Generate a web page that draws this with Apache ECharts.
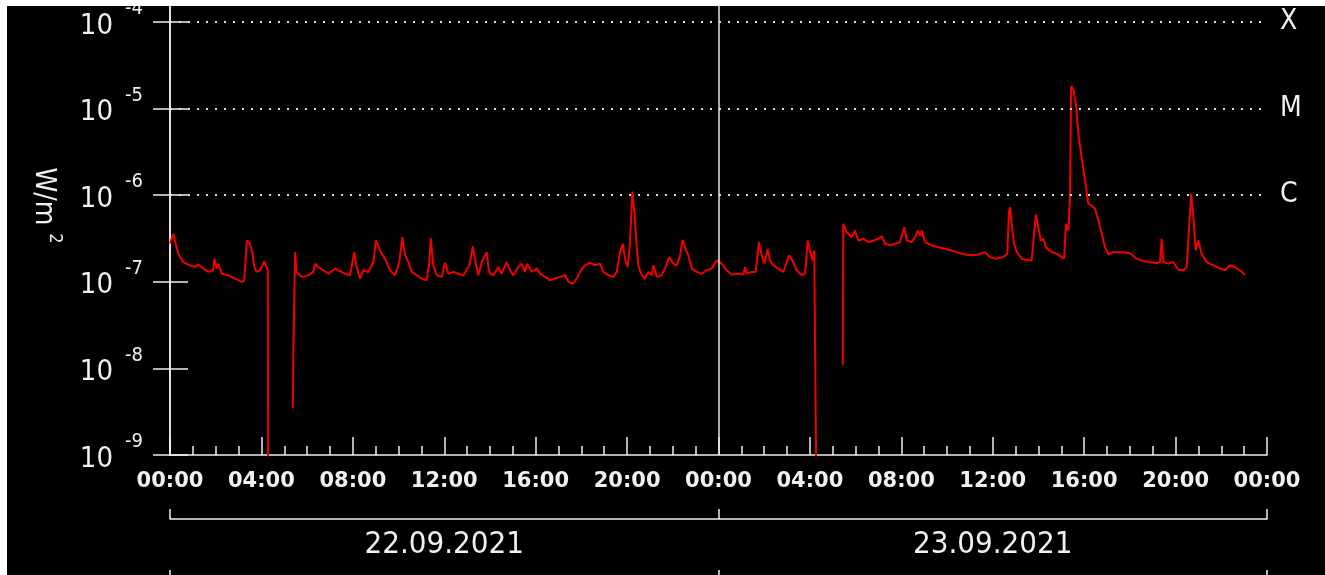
<!DOCTYPE html>
<html>
<head>
<meta charset="utf-8">
<title>X-ray flux</title>
<script src="https://cdn.jsdelivr.net/npm/echarts@6.0.0/dist/echarts.min.js"></script>
<style>
  html, body { margin: 0; padding: 0; background: #fff; }
  #main { position: absolute; left: 7px; top: 6px; width: 1318px; height: 569px; }
</style>
</head>
<body>
<div id="main"></div>
<script>
// time in hours from 22.09.2021 00:00, flux in W/m2 (null = gap in data)
var hours = [
  0.00, 0.14, 0.36, 0.58, 0.80, 1.09, 1.24, 1.46, 1.68, 1.89, 1.94, 2.04, 2.11, 2.26, 2.55, 2.84,
  3.14, 3.25, 3.36, 3.50, 3.60, 3.69, 3.79, 3.94, 4.13, 4.23, 4.28, 4.30, 4.31,
  5.37, 5.40, 5.47, 5.54, 5.76, 6.05, 6.27, 6.35, 6.49, 6.71, 6.93, 7.22, 7.36, 7.66, 7.88,
  8.06, 8.17, 8.31, 8.46, 8.68, 8.90, 9.01, 9.19, 9.41, 9.63, 9.85, 10.03, 10.17, 10.28, 10.43,
  10.58, 10.80, 11.01, 11.23, 11.35, 11.41, 11.52, 11.67, 11.89, 12.03, 12.18, 12.40, 12.62, 12.83,
  13.10, 13.25, 13.35, 13.49, 13.64, 13.75, 13.86, 13.93, 14.00, 14.15, 14.37, 14.51, 14.73, 14.88,
  15.02, 15.24, 15.39, 15.53, 15.63, 15.83, 16.05, 16.19, 16.41, 16.63, 16.85, 17.06, 17.28, 17.43,
  17.62, 17.80, 17.94, 18.16, 18.38, 18.60, 18.82, 18.96, 19.18, 19.40, 19.55, 19.69, 19.81, 19.91,
  20.03, 20.13, 20.23, 20.32, 20.39, 20.49, 20.64, 20.78, 20.93, 21.08, 21.15, 21.30, 21.51, 21.66,
  21.85, 22.02, 22.17, 22.32, 22.43, 22.58, 22.68, 22.83, 23.05, 23.27, 23.48, 23.70, 23.92, 23.99,
  24.14, 24.36, 24.58, 24.87, 25.09, 25.16, 25.23, 25.45, 25.63, 25.72, 25.77, 25.89, 26.01, 26.15,
  26.25, 26.40, 26.62, 26.84, 26.98, 27.09, 27.23, 27.42, 27.64, 27.79, 27.90, 28.00, 28.11, 28.19,
  28.27, 28.30, 28.31,
  29.44, 29.46, 29.61, 29.83, 29.97, 30.12, 30.34, 30.56, 30.77, 30.99, 31.14, 31.29, 31.50, 31.72,
  31.94, 32.13, 32.24, 32.45, 32.60, 32.72, 32.82, 32.89, 33.04, 33.33, 33.62, 33.91, 34.20, 34.49,
  34.79, 35.08, 35.37, 35.66, 35.88, 36.10, 36.17, 36.46, 36.64, 36.71, 36.76, 36.83, 36.93, 37.05,
  37.27, 37.49, 37.70, 37.82, 37.89, 37.99, 38.10, 38.21, 38.33, 38.58, 38.80, 39.02, 39.12, 39.21,
  39.31, 39.38, 39.43, 39.53, 39.64, 39.75, 39.89, 40.04, 40.18, 40.33, 40.48, 40.62, 40.77, 40.91,
  41.06, 41.28, 41.49, 41.71, 42.01, 42.30, 42.59, 42.88, 43.17, 43.32, 43.39, 43.46, 43.68, 43.90,
  44.12, 44.34, 44.49, 44.59, 44.68, 44.78, 44.88, 45.00, 45.14, 45.36, 45.65, 45.94, 46.16, 46.38,
  46.60, 46.82, 47.04
];
var flux = [
  2.77e-7, 3.58e-7, 2.11e-7, 1.69e-7, 1.58e-7, 1.48e-7, 1.58e-7, 1.42e-7, 1.30e-7, 1.36e-7, 1.85e-7, 1.42e-7, 1.62e-7, 1.24e-7, 1.19e-7, 1.09e-7,
  1.00e-7, 1.04e-7, 3.00e-7, 2.75e-7, 2.20e-7, 1.48e-7, 1.30e-7, 1.36e-7, 1.72e-7, 1.48e-7, 1.36e-7, 1e-10, null,
  3.49e-9, 1.56e-8, 2.20e-7, 1.30e-7, 1.14e-7, 1.19e-7, 1.30e-7, 1.62e-7, 1.48e-7, 1.36e-7, 1.24e-7, 1.42e-7, 1.36e-7, 1.24e-7, 1.19e-7,
  2.20e-7, 1.48e-7, 1.09e-7, 1.36e-7, 1.30e-7, 1.69e-7, 3.00e-7, 2.30e-7, 1.85e-7, 1.36e-7, 1.19e-7, 1.69e-7, 3.27e-7, 2.02e-7, 1.69e-7,
  1.30e-7, 1.19e-7, 1.09e-7, 1.04e-7, 1.69e-7, 3.19e-7, 1.55e-7, 1.19e-7, 1.14e-7, 1.66e-7, 1.24e-7, 1.30e-7, 1.24e-7, 1.19e-7,
  1.55e-7, 2.56e-7, 1.77e-7, 1.19e-7, 1.69e-7, 1.93e-7, 2.20e-7, 1.48e-7, 1.24e-7, 1.19e-7, 1.48e-7, 1.24e-7, 1.69e-7, 1.36e-7,
  1.19e-7, 1.48e-7, 1.62e-7, 1.30e-7, 1.62e-7, 1.30e-7, 1.42e-7, 1.24e-7, 1.14e-7, 1.04e-7, 1.09e-7, 1.14e-7, 1.19e-7, 1.00e-7,
  9.5e-8, 1.09e-7, 1.30e-7, 1.55e-7, 1.66e-7, 1.55e-7, 1.62e-7, 1.30e-7, 1.19e-7, 1.14e-7, 1.30e-7, 2.20e-7, 2.75e-7, 1.85e-7,
  1.48e-7, 2.87e-7, 1.10e-6, 6.34e-7, 3.27e-7, 1.55e-7, 1.19e-7, 1.09e-7, 1.30e-7, 1.19e-7, 1.55e-7, 1.14e-7, 1.19e-7, 1.42e-7,
  1.93e-7, 1.62e-7, 1.55e-7, 2.02e-7, 3.05e-7, 2.30e-7, 2.02e-7, 1.42e-7, 1.30e-7, 1.24e-7, 1.36e-7, 1.42e-7, 1.77e-7, 1.85e-7,
  1.62e-7, 1.36e-7, 1.21e-7, 1.24e-7, 1.21e-7, 1.48e-7, 1.24e-7, 1.30e-7, 1.30e-7, 2.20e-7, 2.87e-7, 2.02e-7, 1.62e-7, 2.41e-7,
  1.77e-7, 1.55e-7, 1.42e-7, 1.30e-7, 1.69e-7, 2.02e-7, 1.77e-7, 1.36e-7, 1.19e-7, 1.24e-7, 3.00e-7, 2.30e-7, 1.77e-7, 2.30e-7,
  2.41e-7, 1e-10, null,
  1.10e-8, 4.67e-7, 3.73e-7, 3.27e-7, 3.91e-7, 3.00e-7, 3.14e-7, 2.87e-7, 3.00e-7, 3.14e-7, 3.36e-7, 2.75e-7, 2.63e-7, 2.75e-7,
  2.87e-7, 4.27e-7, 3.00e-7, 2.87e-7, 3.27e-7, 3.91e-7, 3.42e-7, 3.91e-7, 2.87e-7, 2.63e-7, 2.51e-7, 2.41e-7, 2.30e-7, 2.17e-7,
  2.06e-7, 2.02e-7, 2.07e-7, 2.20e-7, 1.93e-7, 1.85e-7, 1.77e-7, 1.93e-7, 2.11e-7, 6.64e-7, 7.24e-7, 4.67e-7, 2.75e-7, 2.20e-7,
  1.85e-7, 1.77e-7, 1.77e-7, 3.91e-7, 5.97e-7, 4.27e-7, 3.00e-7, 3.14e-7, 2.51e-7, 2.20e-7, 2.11e-7, 1.93e-7, 1.85e-7, 4.67e-7,
  3.91e-7, 9.43e-7, 1.81e-5, 1.66e-5, 1.12e-5, 5.05e-6, 2.72e-6, 1.47e-6, 7.92e-7, 7.57e-7, 6.94e-7, 5.09e-7, 3.58e-7, 2.51e-7,
  2.07e-7, 2.20e-7, 2.20e-7, 2.20e-7, 2.14e-7, 1.85e-7, 1.73e-7, 1.69e-7, 1.64e-7, 1.69e-7, 3.14e-7, 1.69e-7, 1.62e-7, 1.69e-7,
  1.38e-7, 1.36e-7, 1.48e-7, 4.27e-7, 1.03e-6, 5.56e-7, 2.30e-7, 3.00e-7, 2.11e-7, 1.69e-7, 1.55e-7, 1.42e-7, 1.36e-7, 1.55e-7,
  1.48e-7, 1.36e-7, 1.21e-7
];
var decades = [1e-9, 1e-8, 1e-7, 1e-6, 1e-5, 1e-4];
var classLevels = [1e-4, 1e-5, 1e-6];
var classNames = ['X', 'M', 'C'];
var dayBounds = [0, 24, 48];
var dayCenters = [12, 36];
var dayNames = ['22.09.2021', '23.09.2021'];

var FONT = "'DejaVu Sans Condensed', 'DejaVu Sans', sans-serif";
var FG = '#f0f0f0';
var Y_MIN = 1e-9, Y_MAX = 1.53e-4;   // top of frame sits a bit above 10^-4

function expOf(v) {
  return Math.round(Math.log(v) / Math.LN10);
}

var seriesData = [];
for (var i = 0; i < hours.length; i++) {
  seriesData.push([hours[i], flux[i]]);
}

// dotted level lines for X, M, C and the day boundary
var markData = [];
for (var k = 0; k < classLevels.length; k++) {
  markData.push([{ coord: [0, classLevels[k]] }, { coord: [48, classLevels[k]] }]);
}
markData.push([
  { coord: [24, Y_MIN], lineStyle: { type: 'solid', width: 1.5, color: '#e8e8e8' } },
  { coord: [24, Y_MAX] }
]);

var chart = echarts.init(document.getElementById('main'));
var option = {
  backgroundColor: '#000',
  animation: false,
  // labels may hang over the frame edge, keep the plot box fixed
  grid: { left: 163, right: 58, top: 0, bottom: 120, outerBoundsMode: 'none' },
  xAxis: [
    {
      type: 'value', min: 0, max: 48, interval: 4,
      axisLine: { lineStyle: { color: FG, width: 1.5 } },
      axisTick: { inside: true, length: 18, lineStyle: { color: FG, width: 1.5 } },
      minorTick: { show: true, splitNumber: 4, length: 9, lineStyle: { color: FG, width: 1.5 } },
      splitLine: { show: false },
      axisLabel: {
        color: FG, fontFamily: "'DejaVu Sans', sans-serif", fontWeight: 'bold', fontSize: 21, margin: 16,
        formatter: function (v) {
          var h = v % 24;
          return (h < 10 ? '0' : '') + h + ':00';
        }
      }
    },
    {
      // date brackets under the time axis
      type: 'value', min: 0, max: 48, position: 'bottom', offset: 64,
      axisLine: { lineStyle: { color: FG, width: 1.5 } },
      axisTick: { inside: true, length: 10, customValues: dayBounds, lineStyle: { color: FG, width: 1.5 } },
      splitLine: { show: false },
      axisLabel: {
        color: FG, fontFamily: FONT, fontSize: 31, margin: 10,
        customValues: dayCenters,
        formatter: function (v) {
          return dayNames[dayCenters.indexOf(Math.round(v))] || '';
        }
      }
    },
    {
      // next bracket row, mostly below the picture
      type: 'value', min: 0, max: 48, position: 'bottom', offset: 125,
      axisLine: { lineStyle: { color: FG, width: 1.5 } },
      axisTick: { inside: true, length: 10, customValues: dayBounds, lineStyle: { color: FG, width: 1.5 } },
      splitLine: { show: false },
      axisLabel: { show: false }
    }
  ],
  yAxis: [
    {
      type: 'log', logBase: 10, min: Y_MIN, max: Y_MAX,
      name: '{a|W/m}{s|2}', nameLocation: 'middle', nameRotate: -90, nameGap: 110,
      nameTextStyle: {
        color: FG, padding: [0, 50, 0, 0],
        rich: {
          a: { fontFamily: FONT, fontSize: 28, color: FG, lineHeight: 28, padding: [6, 0, 0, 0] },
          s: { fontFamily: FONT, fontSize: 18, color: FG, lineHeight: 18, padding: [0, 0, 18, 8] }
        }
      },
      axisLine: { lineStyle: { color: FG, width: 1.5 } },
      axisTick: { inside: true, length: 18, customValues: decades, lineStyle: { color: FG, width: 1.5 } },
      splitLine: { show: false },
      axisLabel: {
        margin: 27, customValues: decades,
        // exponent on a short first line, "10" below it shifted left
        formatter: function (v) { return '{e|' + expOf(v) + '}\n{b|10}'; },
        rich: {
          b: { fontFamily: FONT, fontSize: 29, color: FG, lineHeight: 26, padding: [0, 30, 0, 0] },
          e: { fontFamily: FONT, fontSize: 20, color: FG, lineHeight: 8 }
        }
      }
    },
    {
      type: 'log', logBase: 10, min: Y_MIN, max: Y_MAX, position: 'right',
      axisLine: { lineStyle: { color: FG, width: 1.5 } },
      axisTick: { inside: true, length: 17, customValues: decades, lineStyle: { color: FG, width: 1.5 } },
      splitLine: { show: false },
      axisLabel: {
        color: FG, fontFamily: FONT, fontSize: 28, margin: 13, customValues: classLevels,
        formatter: function (v) {
          for (var j = 0; j < classLevels.length; j++) {
            if (expOf(classLevels[j]) === expOf(v)) return classNames[j];
          }
          return '';
        }
      }
    }
  ],
  series: [
    {
      type: 'line', xAxisIndex: 0, yAxisIndex: 0,
      data: seriesData,
      showSymbol: false, symbol: 'none',
      connectNulls: false, clip: true,
      lineStyle: { color: '#f00000', width: 2 },
      markLine: {
        silent: true, symbol: 'none', label: { show: false },
        lineStyle: { color: '#e0e0e0', type: [2, 7], width: 2 },
        data: markData
      }
    }
  ]
};
chart.setOption(option);
</script>
</body>
</html>
